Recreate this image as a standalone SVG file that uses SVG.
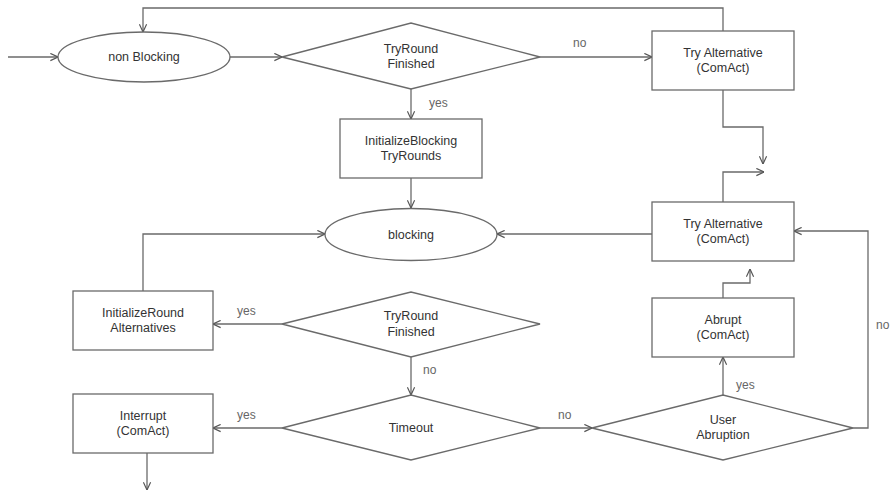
<svg xmlns="http://www.w3.org/2000/svg" width="893" height="493" viewBox="0 0 893 493">
<style>
.shape{fill:#fff;stroke:#6a6a6a;stroke-width:1.3}
.t{font-family:"Liberation Sans",Arial,sans-serif;font-size:12.5px;fill:#333;text-anchor:middle}
.lbl{font-family:"Liberation Sans",Arial,sans-serif;font-size:12px;fill:#666}
.c{fill:none;stroke:#6a6a6a;stroke-width:1.3}
</style>
<defs>
<marker id="arr" viewBox="0 0 10 10" refX="9.5" refY="5" markerWidth="9" markerHeight="9" markerUnits="userSpaceOnUse" orient="auto">
<path d="M1,1 L9.5,5 L1,9" fill="none" stroke="#555" stroke-width="1.3"/>
</marker>
</defs>
<rect width="893" height="493" fill="#fff"/>
<g id="connectors" class="c">
<path d="M8,57 H58" marker-end="url(#arr)"/>
<path d="M229,57 H282" marker-end="url(#arr)"/>
<path d="M540,57 H652" marker-end="url(#arr)"/>
<path d="M723,31 V8 H143 V32" marker-end="url(#arr)"/>
<path d="M723,90 V127 H763 V164" marker-end="url(#arr)"/>
<path d="M723,202 V172 H764" marker-end="url(#arr)"/>
<path d="M411,89 V119" marker-end="url(#arr)"/>
<path d="M411,178 V208" marker-end="url(#arr)"/>
<path d="M652,234 H497" marker-end="url(#arr)"/>
<path d="M723,298 V283 H750 V269" marker-end="url(#arr)"/>
<path d="M853,428 H868 V231 H794" marker-end="url(#arr)"/>
<path d="M723,395 V357" marker-end="url(#arr)"/>
<path d="M540,428 H592" marker-end="url(#arr)"/>
<path d="M411,357 V395" marker-end="url(#arr)"/>
<path d="M282,324 H213" marker-end="url(#arr)"/>
<path d="M143,291 V234 H325" marker-end="url(#arr)"/>
<path d="M282,428 H213" marker-end="url(#arr)"/>
<path d="M147,453 V490" marker-end="url(#arr)"/>
</g>
<g id="labels">
<text class="lbl" x="573" y="47">no</text>
<text class="lbl" x="429" y="107">yes</text>
<text class="lbl" x="237" y="315">yes</text>
<text class="lbl" x="423" y="374">no</text>
<text class="lbl" x="237" y="419">yes</text>
<text class="lbl" x="558" y="419">no</text>
<text class="lbl" x="736" y="389">yes</text>
<text class="lbl" x="876" y="329">no</text>
</g>
<g id="nonBlocking">
<ellipse class="shape" cx="144" cy="57" rx="86" ry="25"/>
<text class="t" x="144" y="61">non Blocking</text>
</g>
<g id="tryRound1">
<polygon class="shape" points="282,57 411,23 540,57 411,89"/>
<text class="t" x="411" y="53">TryRound</text>
<text class="t" x="411" y="68">Finished</text>
</g>
<g id="tryAlt1">
<rect class="shape" x="652" y="31" width="142" height="59"/>
<text class="t" x="723" y="57">Try Alternative</text>
<text class="t" x="723" y="72">(ComAct)</text>
</g>
<g id="initBlocking">
<rect class="shape" x="340" y="119" width="142" height="59"/>
<text class="t" x="411" y="145">InitializeBlocking</text>
<text class="t" x="411" y="160">TryRounds</text>
</g>
<g id="blocking">
<ellipse class="shape" cx="411" cy="234.5" rx="86" ry="26"/>
<text class="t" x="411" y="239">blocking</text>
</g>
<g id="tryAlt2">
<rect class="shape" x="652" y="202" width="142" height="59"/>
<text class="t" x="723" y="228">Try Alternative</text>
<text class="t" x="723" y="243">(ComAct)</text>
</g>
<g id="initRound">
<rect class="shape" x="73" y="291" width="140" height="59"/>
<text class="t" x="143" y="317">InitializeRound</text>
<text class="t" x="143" y="332">Alternatives</text>
</g>
<g id="tryRound2">
<polygon class="shape" points="282,324 411,292 540,324 411,357"/>
<text class="t" x="411" y="320">TryRound</text>
<text class="t" x="411" y="336">Finished</text>
</g>
<g id="abrupt">
<rect class="shape" x="652" y="298" width="142" height="59"/>
<text class="t" x="723" y="324">Abrupt</text>
<text class="t" x="723" y="339">(ComAct)</text>
</g>
<g id="interrupt">
<rect class="shape" x="73" y="394" width="140" height="59"/>
<text class="t" x="143" y="420">Interrupt</text>
<text class="t" x="143" y="435">(ComAct)</text>
</g>
<g id="timeout">
<polygon class="shape" points="282,428 411,395 540,428 411,460"/>
<text class="t" x="411" y="432">Timeout</text>
</g>
<g id="userAbruption">
<polygon class="shape" points="592,428 723,395 853,428 723,460"/>
<text class="t" x="723" y="424">User</text>
<text class="t" x="723" y="439">Abruption</text>
</g>
</svg>
